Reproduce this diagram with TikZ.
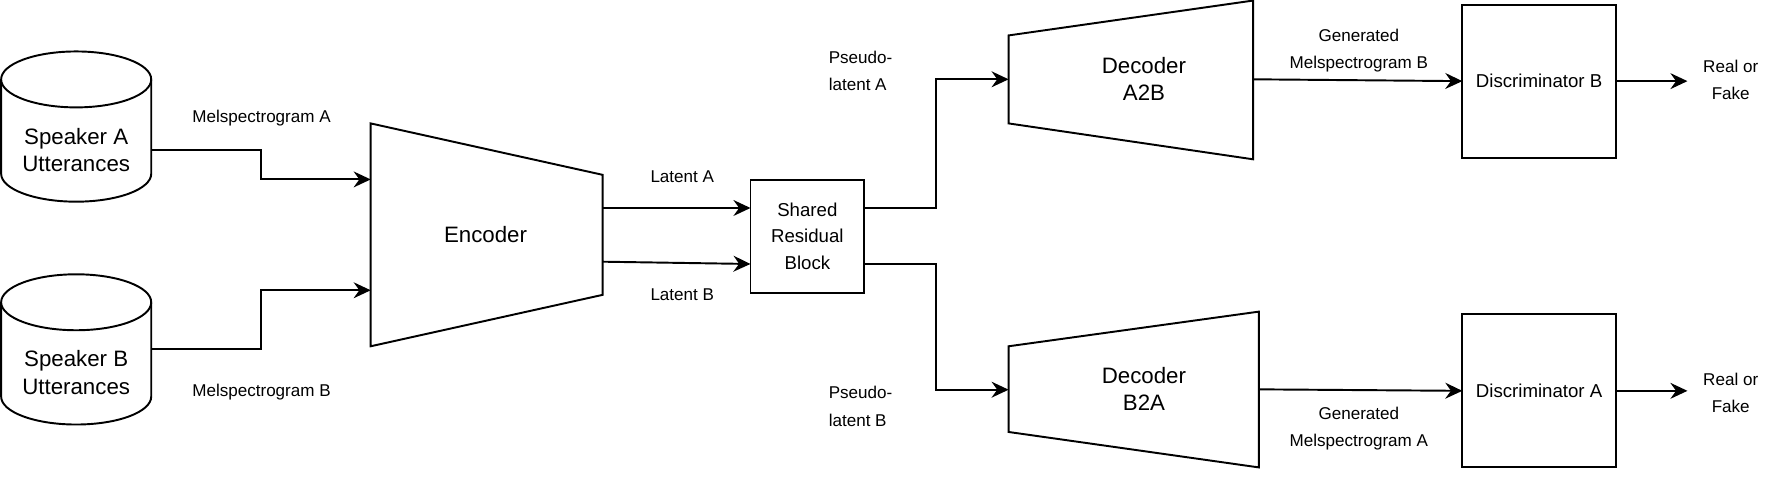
\documentclass[tikz,border=0pt]{standalone}
\usepackage{fontspec}
\setmainfont{Liberation Sans}
\usetikzlibrary{arrows.meta,calc}
\begin{document}
\begin{tikzpicture}[x=0.5pt,y=-0.5025pt,
  line width=0.85pt,
  arr/.style={-{Stealth[length=7.5pt,width=7pt,inset=2.5pt]}, line width=0.85pt},
  shp/.style={draw, line width=0.85pt, fill=white},
  lbl/.style={font=\fontsize{7.5}{12}\selectfont, align=center, inner sep=0pt},
  midf/.style={font=\fontsize{8.2}{11.75}\selectfont, align=center},
  big/.style={font=\fontsize{9.8}{12}\selectfont, align=center},
  box/.style={inner sep=0pt, outer sep=0pt}
]
\useasboundingbox (0,0) rectangle (1568,420);

% cylinders
\draw[shp] (1,69.5) -- (1,152) arc[start angle=180,end angle=360,x radius=33pt,y radius=12.3pt] -- (133,69.5);
\draw[shp] (67,69.5) ellipse[x radius=33pt,y radius=12.3pt];
\node[box,big,minimum width=66pt] (spA) at (67,131) {Speaker A\\Utterances};

\draw[shp] (1,264.5) -- (1,347) arc[start angle=180,end angle=360,x radius=33pt,y radius=12.3pt] -- (133,264.5);
\draw[shp] (67,264.5) ellipse[x radius=33pt,y radius=12.3pt];
\node[box,big,minimum width=66pt] (spB) at (67,326) {Speaker B\\Utterances};
\coordinate (spBout) at (133,305);

% encoder
\draw[shp] (326,108) -- (530,153) -- (530,258) -- (326,303) -- cycle;
\node[box,big] (enc) at (427,205) {Encoder};
\coordinate (encInA) at (326,157);
\coordinate (encInB) at (326,254);
\coordinate (encOutA) at (530,182);
\coordinate (encOutB) at (530,229);

% shared block
\node[draw,midf,minimum width=50pt,minimum height=49.5pt,inner sep=0pt,outer sep=0pt] (sh) at (710,206.75) {Shared\\Residual\\Block};
\coordinate (shInA) at (660,182);
\coordinate (shInB) at (660,231);
\coordinate (shOutA) at (760,182);
\coordinate (shOutB) at (760,231);

% decoders
\draw[shp] (887,31) -- (1102,0.5) -- (1102,139.4) -- (887,108) -- cycle;
\node[box,big] (decA) at (1006,69) {Decoder\\A2B};
\coordinate (decAin) at (887,69.4);
\coordinate (decAout) at (1102,69.4);

\draw[shp] (887,303) -- (1107,272.7) -- (1107,409) -- (887,378) -- cycle;
\node[box,big] (decB) at (1006,340.5) {Decoder\\B2A};
\coordinate (decBin) at (887,341);
\coordinate (decBout) at (1107,340.7);

% discriminators
\node[draw,midf,minimum width=67.5pt,minimum height=67.3pt,inner sep=0pt,outer sep=0pt] (discB) at (1353.5,71) {Discriminator B};
\node[draw,midf,minimum width=67.5pt,minimum height=67.3pt,inner sep=0pt,outer sep=0pt] (discA) at (1353.5,342) {Discriminator A};

\node[lbl,inner xsep=6.5pt] (rfB) at (1522,70) {Real or\\Fake};
\node[lbl,inner xsep=6.5pt] (rfA) at (1522,343.5) {Real or\\Fake};

% labels
\node[lbl] (lmA) at (230,103) {Melspectrogram A};
\node[lbl] (lmB) at (230,343) {Melspectrogram B};
\node[lbl] (llA) at (600,155) {Latent A};
\node[lbl] (llB) at (600,257.5) {Latent B};
\node[lbl,align=left,anchor=west] (lpA) at (728,62.25) {Pseudo-\\latent A};
\node[lbl,align=left,anchor=west] (lpB) at (728,355.7) {Pseudo-\\latent B};
\node[lbl] (lgB) at (1195,44) {Generated\\Melspectrogram B};
\node[lbl] (lgA) at (1195,375) {Generated\\Melspectrogram A};

% connectors
\draw[arr] (spA.east) -| ($(spA.east)!0.5!(encInA)$) |- (encInA);
\draw[arr] (spBout) -| ($(spBout)!0.5!(encInB)$) |- (encInB);
\draw[arr] (encOutA) -- (shInA);
\draw[arr] (encOutB) -- (shInB);
\draw[arr] (shOutA) -| ($(shOutA)!0.5!(decAin)$) |- (decAin);
\draw[arr] (shOutB) -| ($(shOutB)!0.5!(decBin)$) |- (decBin);
\draw[arr] (decAout) -- (discB.west);
\draw[arr] (decBout) -- (discA.west);
\draw[arr] (discB.east) -- (discB.east -| rfB.west);
\draw[arr] (discA.east) -- (discA.east -| rfA.west);
\end{tikzpicture}
\end{document}
